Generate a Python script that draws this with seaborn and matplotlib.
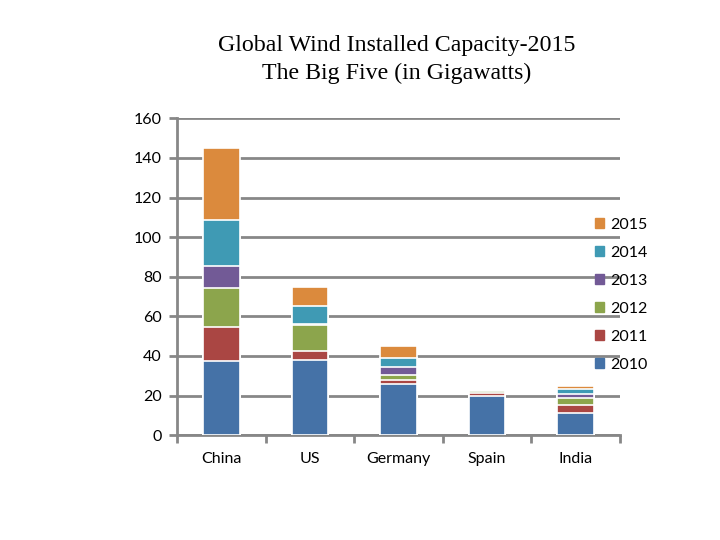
# Global wind installed capacity, stacked by year
import numpy as np
import pandas as pd
import seaborn as sb
from matplotlib import pyplot as plt
from matplotlib.patches import Patch

countries = ['China', 'US', 'Germany', 'Spain', 'India']
years = ['2010', '2011', '2012', '2013', '2014', '2015']
# yearly additions (GW)
cap_2010 = [37.4, 38.2, 26.1, 20.0, 11.0]
cap_2011 = [17.0, 4.1, 2.0, 1.1, 4.2]
cap_2012 = [19.7, 13.3, 2.1, 1.1, 3.8]
cap_2013 = [11.1, 0.8, 4.0, 0.2, 2.0]
cap_2014 = [23.4, 8.8, 5.0, 0.1, 2.2]
cap_2015 = [36.5, 9.7, 5.8, 0.2, 1.7]
colors = ['#4572A7', '#AA4643', '#8CA54C', '#725A96', '#3F9AB4', '#DB8A3D']

df = pd.DataFrame({'country': countries, '2010': cap_2010, '2011': cap_2011,
                   '2012': cap_2012, '2013': cap_2013, '2014': cap_2014,
                   '2015': cap_2015})
cum = df[years].cumsum(axis=1)
cum['country'] = df['country']

plt.rcParams['font.family'] = ['Lato', 'DejaVu Sans']
fig = plt.figure(figsize=(7.2, 5.4), dpi=100)
ax = fig.add_axes([0.246, 0.194, 0.615, 0.587])

# draw tallest first, smaller cumulative totals on top
for i in range(len(years) - 1, -1, -1):
    sb.barplot(data=cum, x='country', y=years[i], color=colors[i], width=0.41,
               edgecolor='white', linewidth=1.2, saturation=1, ax=ax, zorder=3)

grid_c = '#878787'
ax.set_ylim(0, 160)
ax.set_xlim(-0.5, 4.5)
ax.set_yticks(np.arange(0, 161, 20))
ax.yaxis.grid(True, color=grid_c, linewidth=2)
ax.set_axisbelow(True)
for s in ['top', 'right']:
    ax.spines[s].set_visible(False)
for s in ['left', 'bottom']:
    ax.spines[s].set_color(grid_c)
    ax.spines[s].set_linewidth(2)
ax.set_xlabel('')
ax.set_ylabel('')
ax.tick_params(axis='y', length=6, width=2, color=grid_c, labelsize=11.5, pad=5)
ax.tick_params(axis='x', which='major', length=0, labelsize=11.5, pad=12)
ax.set_xticks(np.arange(-0.5, 5, 1), minor=True)
ax.tick_params(axis='x', which='minor', length=6, width=2, color=grid_c)

fig.text(0.551, 0.89, 'Global Wind Installed Capacity-2015\nThe Big Five (in Gigawatts)',
         ha='center', va='center', fontsize=17.2, family='Liberation Serif',
         linespacing=1.42)

handles = [Patch(color=colors[i]) for i in range(len(years) - 1, -1, -1)]
labels = years[::-1]
fig.legend(handles, labels, loc='upper left', bbox_to_anchor=(0.815, 0.612),
           frameon=False, fontsize=11.5, handlelength=0.6, handleheight=0.6,
           handletextpad=0.35, labelspacing=0.88, borderpad=0)

plt.savefig('out.png', dpi=100)
